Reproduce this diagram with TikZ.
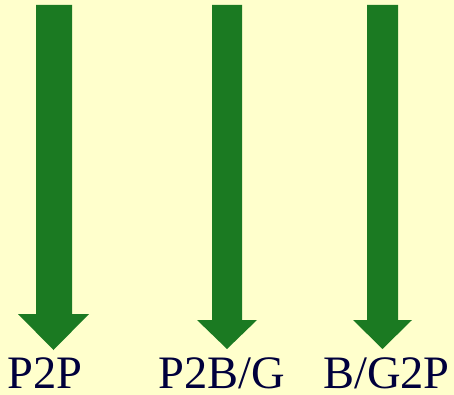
\documentclass[tikz,border=0pt]{standalone}
\usepackage{fontspec}
\setmainfont{Liberation Serif}
\definecolor{paper}{RGB}{255,255,204}
\definecolor{leaf}{RGB}{27,122,34}
\definecolor{ink}{RGB}{0,0,60}

\begin{document}
\begin{tikzpicture}
    [x=1pt, y=-1pt,
     arrowbody/.style={fill=leaf},
     caption/.style={inner sep=0pt, anchor=base, text=ink, font=\fontsize{46.5}{46.5}\selectfont}]
    \fill[paper] (0,0) rectangle (454,395);
    \useasboundingbox (0,0) rectangle (454,395);
    % left arrow
    \fill[arrowbody] (36,5) -- (72,5) -- (72,314) -- (89,314) -- (53.5,350)
        -- (18,314) -- (36,314) -- cycle;
    % middle arrow
    \fill[arrowbody] (212,5) -- (242,5) -- (242,320) -- (257,320) -- (227,349)
        -- (197,320) -- (212,320) -- cycle;
    % right arrow
    \fill[arrowbody] (367,5) -- (398,5) -- (398,320) -- (412,320) -- (382.5,349)
        -- (353,320) -- (367,320) -- cycle;
    \node[caption] (ptop) at (45,388.5) {P2P};
    \node[caption] (ptobg) at (221.5,388.5) {P2B/G};
    \node[caption] (bgtop) at (386.5,388.5) {B/G2P};
\end{tikzpicture}
\end{document}
